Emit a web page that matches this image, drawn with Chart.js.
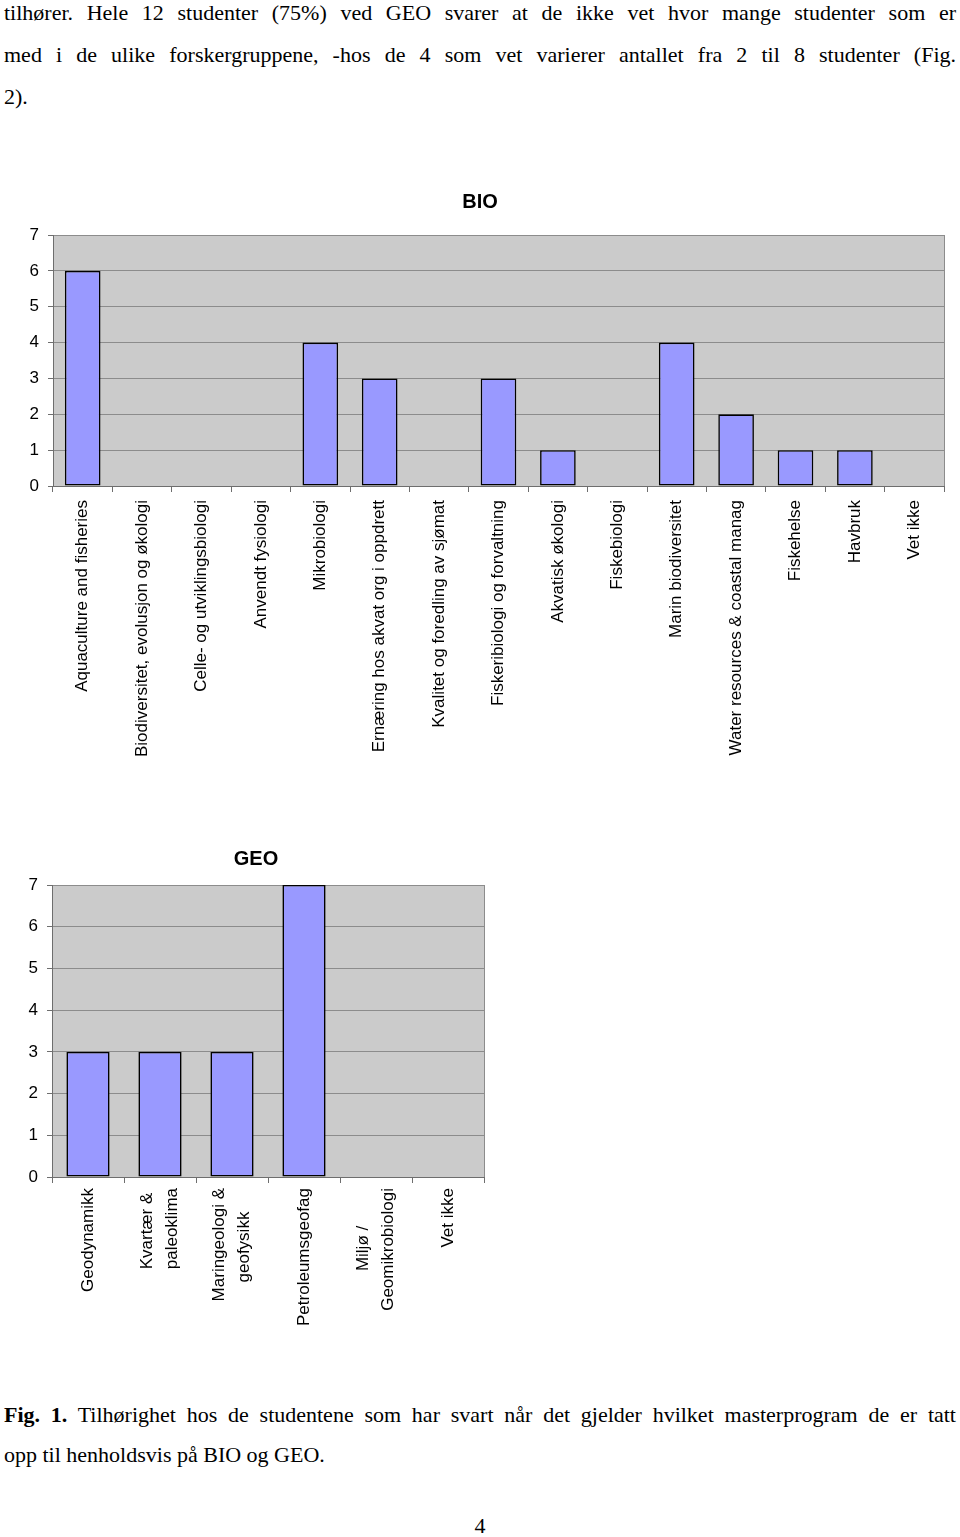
<!DOCTYPE html>
<html><head><meta charset="utf-8">
<script src="https://cdn.jsdelivr.net/npm/chart.js@4.4.0/dist/chart.umd.min.js"></script>
<style>
html,body{margin:0;padding:0;background:#fff;}
body{width:960px;height:1537px;position:relative;overflow:hidden;}
.ln{position:absolute;left:4px;width:952px;font-family:'Liberation Serif','Times New Roman',serif;font-size:22px;line-height:22px;height:22px;color:#000;white-space:nowrap;}
.j{text-align:justify;text-align-last:justify;white-space:normal;}
.c{text-align:center;}
canvas{position:absolute;}
</style></head><body>
<div class="ln j" style="top:2px">tilhører. Hele 12 studenter (75%) ved GEO svarer at de ikke vet hvor mange studenter som er</div>
<div class="ln j" style="top:44px">med i de ulike forskergruppene, -hos de 4 som vet varierer antallet fra 2 til 8 studenter (Fig.</div>
<div class="ln" style="top:86px">2).</div>
<canvas id="bio" width="960" height="600" style="left:0;top:180px;width:960px;height:600px"></canvas>
<canvas id="geo" width="512" height="500" style="left:0;top:840px;width:512px;height:500px"></canvas>
<div class="ln j" style="top:1404px"><b>Fig. 1.</b> Tilhørighet hos de studentene som har svart når det gjelder hvilket masterprogram de er tatt</div>
<div class="ln" style="top:1444px">opp til henholdsvis på BIO og GEO.</div>
<div class="ln c" style="top:1515px">4</div>
<script>
const bioTitle = 'BIO';
const bioLabels = ['Aquaculture and fisheries','Biodiversitet, evolusjon og økologi','Celle- og utviklingsbiologi','Anvendt fysiologi','Mikrobiologi','Ernæring hos akvat org i oppdrett','Kvalitet og foredling av sjømat','Fiskeribiologi og forvaltning','Akvatisk økologi','Fiskebiologi','Marin biodiversitet','Water resources & coastal manag','Fiskehelse','Havbruk','Vet ikke'];
const bioValues = [6,0,0,0,4,3,0,3,1,0,4,2,1,1,0];

const geoTitle = 'GEO';
const geoLabels = ['Geodynamikk',['Kvartær &','paleoklima'],['Maringeologi &','geofysikk'],'Petroleumsgeofag',['Miljø /','Geomikrobiologi'],'Vet ikke'];
const geoValues = [3,3,3,7,0,0];

const yTicks = [0,1,2,3,4,5,6,7];

const FONT = 'Liberation Sans, Arial, Helvetica, sans-serif';
Chart.defaults.font.family = FONT;
Chart.defaults.font.size = 17;
Chart.defaults.color = '#000';

const mctx = document.createElement('canvas').getContext('2d');
mctx.font = '17px ' + FONT;
// pad shorter lines so multi-line rotated labels look centred (as in the original)
function centerLines(lbl){
  if(!Array.isArray(lbl)) return lbl;
  const w = lbl.map(s=>mctx.measureText(s).width);
  const maxW = Math.max(...w);
  const sp = mctx.measureText(' ').width;
  return lbl.map((s,i)=> s + ' '.repeat(Math.round((maxW-w[i])/2/sp)));
}

const plotBg = {id:'plotBg', beforeDraw(chart){
  const {ctx, chartArea:a} = chart;
  ctx.save(); ctx.fillStyle = '#cbcbcb';
  ctx.fillRect(a.left, a.top, a.right-a.left, a.bottom-a.top); ctx.restore();
}};

// centre multi-line rotated tick labels on their category
const centerMulti = {id:'centerMulti', beforeDraw(chart){
  const s = chart.scales.x;
  const items = s.getLabelItems(chart.chartArea);
  if(items._centered) return;
  items.forEach(it=>{
    if(Array.isArray(it.label) && it.label.length>1){
      const lh = it.font.lineHeight;
      it.options.translation[0] -= (it.label.length-1)*lh/2;
    }
  });
  items._centered = true;
}};

function makeChart(id, title, labels, values, o){
  return new Chart(document.getElementById(id), {
    type:'bar',
    data:{labels, datasets:[{data:values, backgroundColor:'#9999ff', borderColor:'#000', borderWidth:1.6, borderSkipped:false, barPercentage:0.6, categoryPercentage:1}]},
    options:{
      responsive:false, animation:false,
      layout:{padding:{top:o.padTop, right:o.padRight, left:o.padLeft, bottom:0}},
      plugins:{legend:{display:false}, tooltip:{enabled:false},
        title:{display:true, text:title, color:'#000', font:{family:FONT, size:20, weight:'bold'}, padding:{top:0, bottom:o.titleBottom}}},
      scales:{
        x:{
          offset:true,
          grid:{offset:true, drawOnChartArea:true, color:(c)=> c.type==='tick' ? 'rgba(0,0,0,0)' : '#8c8c8c', tickColor:'#6e6e6e', tickLength:6, lineWidth:1},
          border:{color:'#6e6e6e', width:1},
          ticks:{autoSkip:false, maxRotation:90, minRotation:90, padding:o.xPad, font:{size:17, lineHeight:o.lh},
            callback(v){ return centerLines(this.getLabelForValue(v)); }},
          afterFit(s){ s.height = o.xH; }
        },
        y:{
          min:0, max:7,
          afterBuildTicks(s){ s.ticks = yTicks.map(v=>({value:v})); },
          grid:{color:'#8c8c8c', tickColor:'#6e6e6e', tickLength:5, lineWidth:1},
          border:{color:'#6e6e6e', width:1},
          ticks:{padding:9, font:{size:17}},
          afterFit(s){ s.width = o.yW; }
        }
      }
    },
    plugins:[plotBg, centerMulti]
  });
}

makeChart('bio', bioTitle, bioLabels, bioValues, {padTop:10, padRight:16, padLeft:16, titleBottom:21, xPad:8, lh:1.2, xH:294, yW:37});
makeChart('geo', geoTitle, geoLabels, geoValues, {padTop:7, padRight:28, padLeft:28, titleBottom:14, xPad:5, lh:1.5, xH:163, yW:24});
</script>
</body></html>
